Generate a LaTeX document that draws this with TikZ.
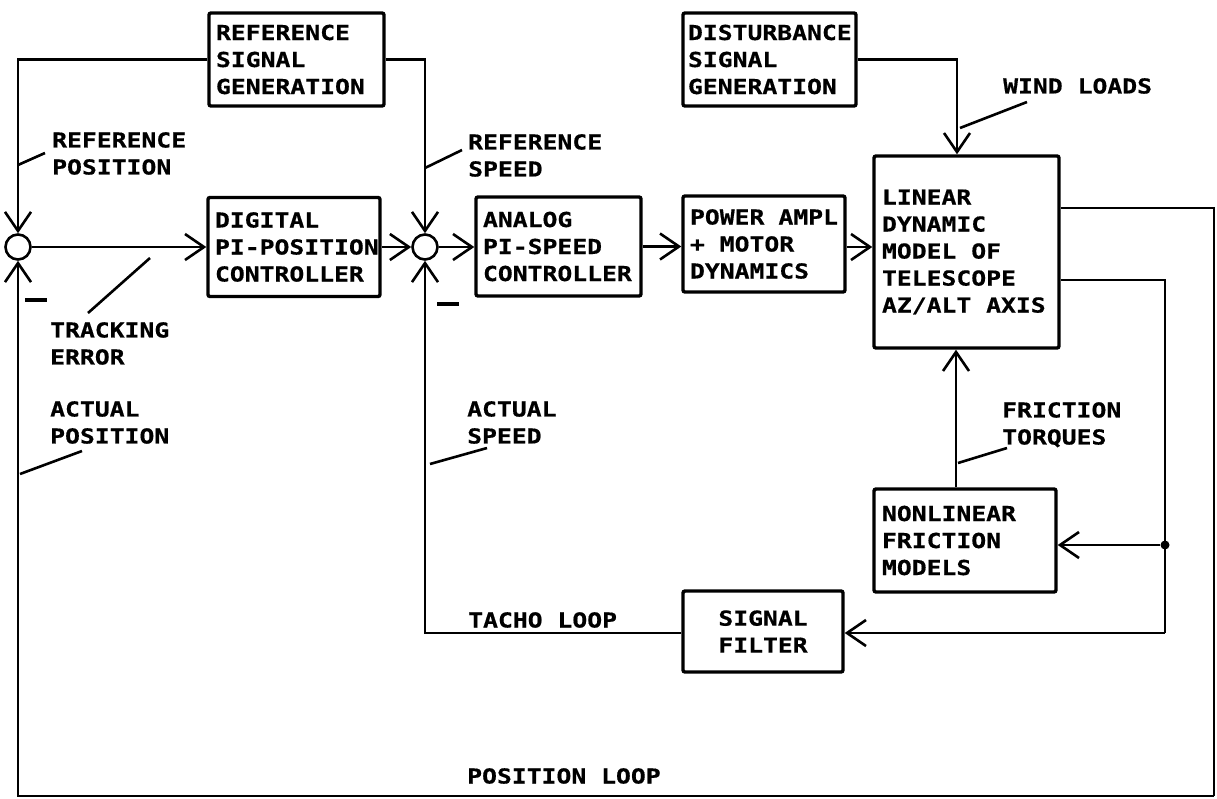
\documentclass[tikz,border=0pt]{standalone}
\usepackage{fontspec}
\newfontfamily\plotfont[FakeStretch=1.2,FakeBold=0.6]{DejaVu Sans Mono}
\usetikzlibrary{arrows.meta}
\hyphenpenalty=10000
\exhyphenpenalty=10000
\newcommand{\pf}{\plotfont\bfseries\fontsize{20.6pt}{27pt}\selectfont}
\tikzset{
  blk/.style={draw, line width=3.4pt, rounded corners=2pt, inner xsep=7pt, inner ysep=0pt, align=flush left, font=\pf},
  sumj/.style={circle, draw, line width=2.6pt, minimum size=25pt, inner sep=0pt},
  conn/.style={line width=2.6pt},
  arr/.style={conn, -{Straight Barb[length=19pt,width=26pt]}},
  lbl/.style={anchor=north west, inner sep=0pt, align=left, font=\pf},
  leader/.style={line width=2.6pt},
  minussign/.style={fill, minimum width=22pt, minimum height=4pt, inner sep=0pt},
  jdot/.style={circle, fill, minimum size=9pt, inner sep=0pt},
}
\begin{document}
\begin{tikzpicture}[x=1pt,y=-1pt]
\useasboundingbox (0,0) rectangle (1217,798);
\fill[white] (0,0) rectangle (1217,798);

% blocks
\node[blk, text width=161pt, minimum height=93pt] (refgen) at (296.5,59.5) {REFERENCE\\SIGNAL\\GENERATION};
\node[blk, inner xsep=5pt, text width=163pt, minimum height=93pt] (dist) at (769.5,59.5) {DISTURBANCE\\SIGNAL\\GENERATION};
\node[blk, text width=158pt, minimum height=99pt] (digital) at (294,247) {DIGITAL\\PI-POSITION\\CONTROLLER};
\node[blk, text width=151pt, minimum height=99pt] (analog) at (558.5,246.5) {ANALOG\\PI-SPEED\\CONTROLLER};
\node[blk, text width=148pt, minimum height=96pt] (power) at (764,244) {POWER AMPL\\+ MOTOR\\DYNAMICS};
\node[blk, inner xsep=8pt, text width=169pt, minimum height=192pt] (tele) at (966.5,252) {LINEAR\\DYNAMIC\\MODEL OF\\TELESCOPE\\AZ/ALT AXIS};
\node[blk, inner xsep=8pt, text width=166pt, minimum height=103pt] (nonlin) at (965,540.5) {NONLINEAR\\FRICTION\\MODELS};
\node[blk, align=flush center, text width=146pt, minimum height=81pt] (filter) at (763,631.5) {SIGNAL\\FILTER};

% summing junctions
\node[sumj] (s1) at (18,247) {};
\node[sumj] (s2) at (425,247) {};
\node[minussign] (m1) at (36,300) {};
\node[minussign] (m2) at (448,304) {};
\node[jdot] (j) at (1165,545) {};

% helper coordinates
\coordinate (outR) at (1214,208);
\coordinate (pbr) at (1214,796);
\coordinate (c2) at (1165,280);
\coordinate (c3) at (1165,633);
\coordinate (wx) at (957,0);
\coordinate (fx) at (956,0);

% connectors
\draw[arr] (refgen.west) -| (s1.north);
\draw[arr] (refgen.east) -| (s2.north);
\draw[arr] (s1.east) -- (digital.west);
\draw[arr] (digital.east) -- (s2.west);
\draw[arr] (s2.east) -- (s2.east -| analog.west);
\draw[arr] (analog.east) -- (analog.east -| power.west);
\draw[arr] (power.east |- s2) -- (s2 -| tele.west);
\draw[arr] (dist.east) -| (tele.north -| wx);
\draw[conn] (tele.east |- outR) -- (outR) -- (pbr);
\draw[arr] (pbr) -| (s1.south);
\draw[conn] (tele.east |- c2) -- (c2) -- (c3);
\draw[arr] (c3) -- (c3 -| filter.east);
\draw[arr] (j) -- (j -| nonlin.east);
\draw[arr] (nonlin.north -| fx) -- (tele.south -| fx);
\draw[arr] (filter.west |- c3) -- (s2.south |- c3) -- (s2.south);

% labels
\node[lbl] (lrefpos) at (52,132) {REFERENCE\\POSITION};
\node[lbl] (lrefspd) at (468,134) {REFERENCE\\SPEED};
\node[lbl] (ltrack) at (50,322) {TRACKING\\ERROR};
\node[lbl] (lactpos) at (50,401) {ACTUAL\\POSITION};
\node[lbl] (lactspd) at (467,401) {ACTUAL\\SPEED};
\node[lbl] (lwind) at (1003,78) {WIND LOADS};
\node[lbl] (lfric) at (1002,402) {FRICTION\\TORQUES};
\node[lbl] (ltacho) at (468,612) {TACHO LOOP};
\node[lbl] (lposloop) at (467,768) {POSITION LOOP};

% leaders
\draw[leader] (18,165) -- (45,153);
\draw[leader] (425,168) -- (462,150);
\draw[leader] (150,258) -- (88,313);
\draw[leader] (20,474) -- (82,451);
\draw[leader] (430,464) -- (487,448);
\draw[leader] (960,128) -- (1027,102);
\draw[leader] (958,463) -- (1007,448);
\end{tikzpicture}
\end{document}
